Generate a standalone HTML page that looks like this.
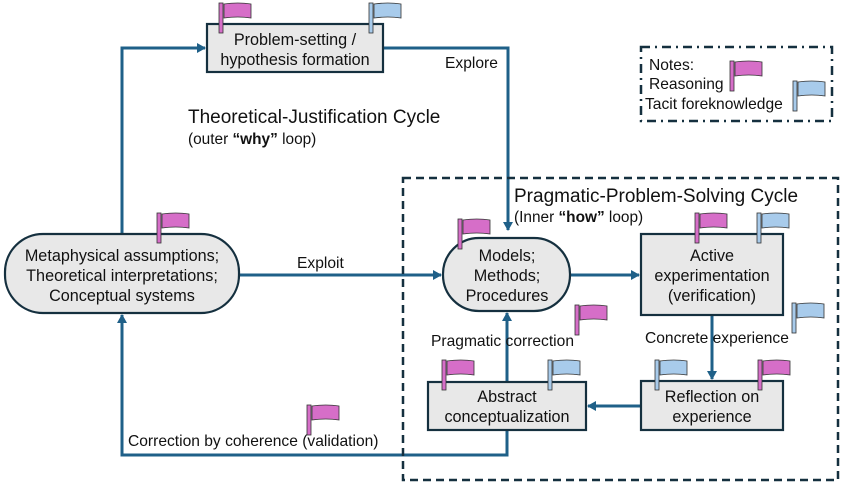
<!DOCTYPE html>
<html><head><meta charset="utf-8"><style>
html,body{margin:0;padding:0;background:#fff;}
svg, svg text{font-family:"Liberation Sans","DejaVu Sans",sans-serif;}
</style></head><body>
<svg width="847" height="489" viewBox="0 0 847 489" xmlns="http://www.w3.org/2000/svg" font-family="Liberation Sans, DejaVu Sans, sans-serif">
<defs>
<marker id="a" markerWidth="10" markerHeight="10" refX="8" refY="5" orient="auto" markerUnits="userSpaceOnUse">
<path d="M0,0 L9,5 L0,10 z" fill="#1f6088"/></marker>
<g id="fp"><rect x="0" y="0" width="4" height="30" fill="#d66ec8" stroke="#333" stroke-width="0.8"/><path d="M5,1 Q19,-1 32,1 L32,15 Q19,13 5,15 z" fill="#d66ec8" stroke="#333" stroke-width="0.8"/></g>
<g id="fb"><rect x="0" y="0" width="4" height="30" fill="#a8cbeb" stroke="#333" stroke-width="0.8"/><path d="M5,1 Q19,-1 32,1 L32,15 Q19,13 5,15 z" fill="#a8cbeb" stroke="#333" stroke-width="0.8"/></g>
</defs>
<g fill="none" stroke="#1f6088" stroke-width="3">
<path d="M122,234 V48 H205" marker-end="url(#a)"/>
<path d="M383,48 H508 V230" marker-end="url(#a)"/>
<path d="M239,275 H441" marker-end="url(#a)"/>
<path d="M570,275 H639" marker-end="url(#a)"/>
<path d="M712,315 V379" marker-end="url(#a)"/>
<path d="M641,406 H588" marker-end="url(#a)"/>
<path d="M507,382 V313" marker-end="url(#a)"/>
<path d="M507,430 V455 H122 V315" marker-end="url(#a)"/>
</g>
<rect x="403" y="178" width="435" height="302" fill="none" stroke="#15303f" stroke-width="2.5" stroke-dasharray="8,5"/>
<rect x="641" y="47" width="191" height="74" fill="none" stroke="#15303f" stroke-width="2.5" stroke-dasharray="9,5,2,5"/>
<g fill="#e8e8e8" stroke="#15303f" stroke-width="2.2">
<rect x="207" y="24" width="176" height="48"/>
<rect x="5" y="234" width="234" height="79" rx="38"/>
<rect x="443" y="238" width="127" height="73" rx="36"/>
<rect x="641" y="234" width="142" height="81"/>
<rect x="641" y="381" width="142" height="49"/>
<rect x="428" y="382" width="158" height="48"/>
</g>
<use href="#fp" x="219" y="3"/><use href="#fb" x="369" y="3"/>
<use href="#fp" x="157" y="213"/>
<use href="#fp" x="458" y="219"/>
<use href="#fp" x="695" y="213"/><use href="#fb" x="757" y="213"/>
<use href="#fb" x="792" y="303"/>
<use href="#fp" x="575" y="305"/>
<use href="#fb" x="655" y="360"/><use href="#fp" x="758" y="360"/>
<use href="#fp" x="442" y="360"/><use href="#fb" x="548" y="360"/>
<use href="#fp" x="307" y="405"/>
<use href="#fp" x="730" y="61"/><use href="#fb" x="793" y="81"/>
<g font-size="16.2" fill="#111" text-anchor="middle" font-family="Liberation Sans, DejaVu Sans, sans-serif">
<text x="295" y="45">Problem-setting /</text>
<text x="295" y="65">hypothesis formation</text>
<text x="122" y="261">Metaphysical assumptions;</text>
<text x="122" y="281">Theoretical interpretations;</text>
<text x="122" y="301">Conceptual systems</text>
<text x="507" y="261">Models;</text>
<text x="507" y="281">Methods;</text>
<text x="507" y="301">Procedures</text>
<text x="712" y="261">Active</text>
<text x="712" y="281">experimentation</text>
<text x="712" y="301">(verification)</text>
<text x="712" y="402">Reflection on</text>
<text x="712" y="422">experience</text>
<text x="507" y="402">Abstract</text>
<text x="507" y="422">conceptualization</text>
</g>
<g font-size="15.6" fill="#111" font-family="Liberation Sans, DejaVu Sans, sans-serif">
<text x="445" y="68">Explore</text>
<text x="297" y="268">Exploit</text>
<text x="431" y="346">Pragmatic correction</text>
<text x="645" y="343">Concrete experience</text>
<text x="128" y="446">Correction by coherence (validation)</text>
<text x="649" y="70">Notes:</text>
<text x="649" y="89">Reasoning</text>
<text x="645" y="109">Tacit foreknowledge</text>
<text x="188" y="123" font-size="19">Theoretical-Justification Cycle</text>
<text x="188" y="144" font-size="15.4">(outer <tspan font-weight="bold">“why”</tspan> loop)</text>
<text x="514" y="202" font-size="19">Pragmatic-Problem-Solving Cycle</text>
<text x="514" y="222" font-size="15.4">(Inner <tspan font-weight="bold">“how”</tspan> loop)</text>
</g>
</svg>
</body></html>
